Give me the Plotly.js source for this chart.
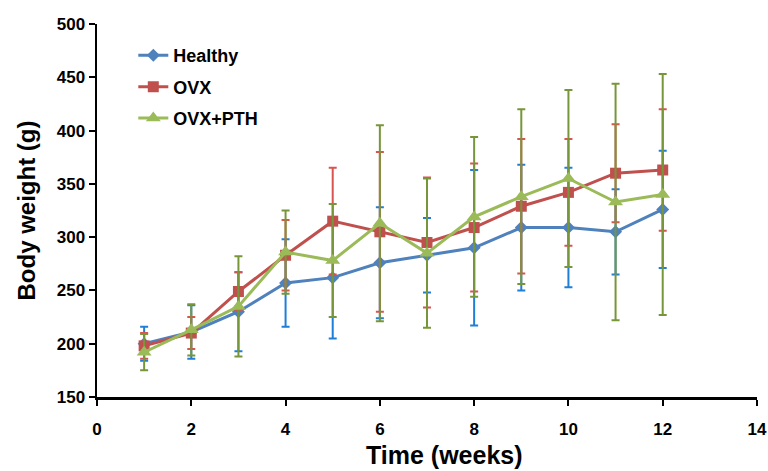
<!DOCTYPE html>
<html>
<head>
<meta charset="utf-8">
<script src="https://cdn.plot.ly/plotly-3.0.1.min.js"></script>
<style>html,body{margin:0;padding:0;background:#fff;}#chart{width:768px;height:471px;}</style>
</head>
<body>
<div id="chart"></div>
<script>
const weeks = [1, 2, 3, 4, 5, 6, 7, 8, 9, 10, 11, 12];
const healthy = [200, 211, 230, 257, 262, 276, 283, 290, 309, 309, 305, 326];
const healthyErr = [16, 25, 37, 41, 57, 52, 35, 73, 59, 56, 40, 55];
const ovx = [198, 210, 249, 283, 315, 305, 295, 309, 329, 342, 360, 363];
const ovxErr = [12, 15, 18, 33, 50, 75, 61, 60, 63, 50, 46, 57];
const pth = [192, 213, 235, 286, 278, 313, 285, 319, 338, 355, 333, 340];
const pthErr = [17, 24, 47, 39, 53, 92, 70, 75, 82, 83, 111, 113];

const FONT = 'Arial, Liberation Sans, sans-serif';

function series(name, y, err, color, errColor, symbol, size) {
  return {
    x: weeks, y: y, name: name, legendgroup: name, type: 'scatter', mode: 'lines+markers',
    line: {color: color, width: 3},
    marker: {color: color, symbol: symbol, size: size},
    error_y: {type: 'data', array: err, visible: true, color: errColor, thickness: 2, width: 4}
  };
}

const data = [
  series('Healthy', healthy, healthyErr, '#4F81BD', '#1F7FD8', 'diamond', 10),
  series('OVX', ovx, ovxErr, '#C0504D', '#D9534F', 'square', 11),
  series('OVX+PTH', pth, pthErr, '#9BBB59', '#77963A', 'triangle-up', 13)
];

const layout = {
  width: 768, height: 471,
  margin: {l: 97, r: 11, t: 24, b: 74},
  paper_bgcolor: '#fff', plot_bgcolor: '#fff',
  showlegend: true,
  legend: {x: 0.055, y: 0.965, xanchor: 'left', yanchor: 'top', bgcolor: 'rgba(0,0,0,0)',
           font: {family: FONT, size: 18, color: '#000', weight: 'bold'},
           traceorder: 'grouped', tracegroupgap: 5, itemwidth: 30},
  xaxis: {
    range: [0, 14], dtick: 2, tick0: 0, showgrid: false, zeroline: false,
    showline: true, linecolor: '#000', linewidth: 2.5,
    ticks: 'outside', ticklen: 6, tickwidth: 2, tickcolor: '#000', ticklabelstandoff: 9,
    tickfont: {family: FONT, size: 17, color: '#000', weight: 'bold'}
  },
  yaxis: {
    range: [150, 500], dtick: 50, showgrid: false, zeroline: false,
    showline: true, linecolor: '#000', linewidth: 2.5,
    ticks: 'outside', ticklen: 6, tickwidth: 2, tickcolor: '#000',
    tickfont: {family: FONT, size: 17, color: '#000', weight: 'bold'},
    title: {text: 'Body weight (g)', font: {family: FONT, size: 24, color: '#000', weight: 'bold'}, standoff: 15}
  },
  annotations: [{
    text: 'Time (weeks)', xref: 'paper', yref: 'paper', x: 0.527, y: 0, yshift: -58,
    xanchor: 'center', yanchor: 'middle', showarrow: false,
    font: {family: FONT, size: 25, color: '#000', weight: 'bold'}
  }]
};

Plotly.newPlot('chart', data, layout, {displayModeBar: false, staticPlot: true});
</script>
</body>
</html>
